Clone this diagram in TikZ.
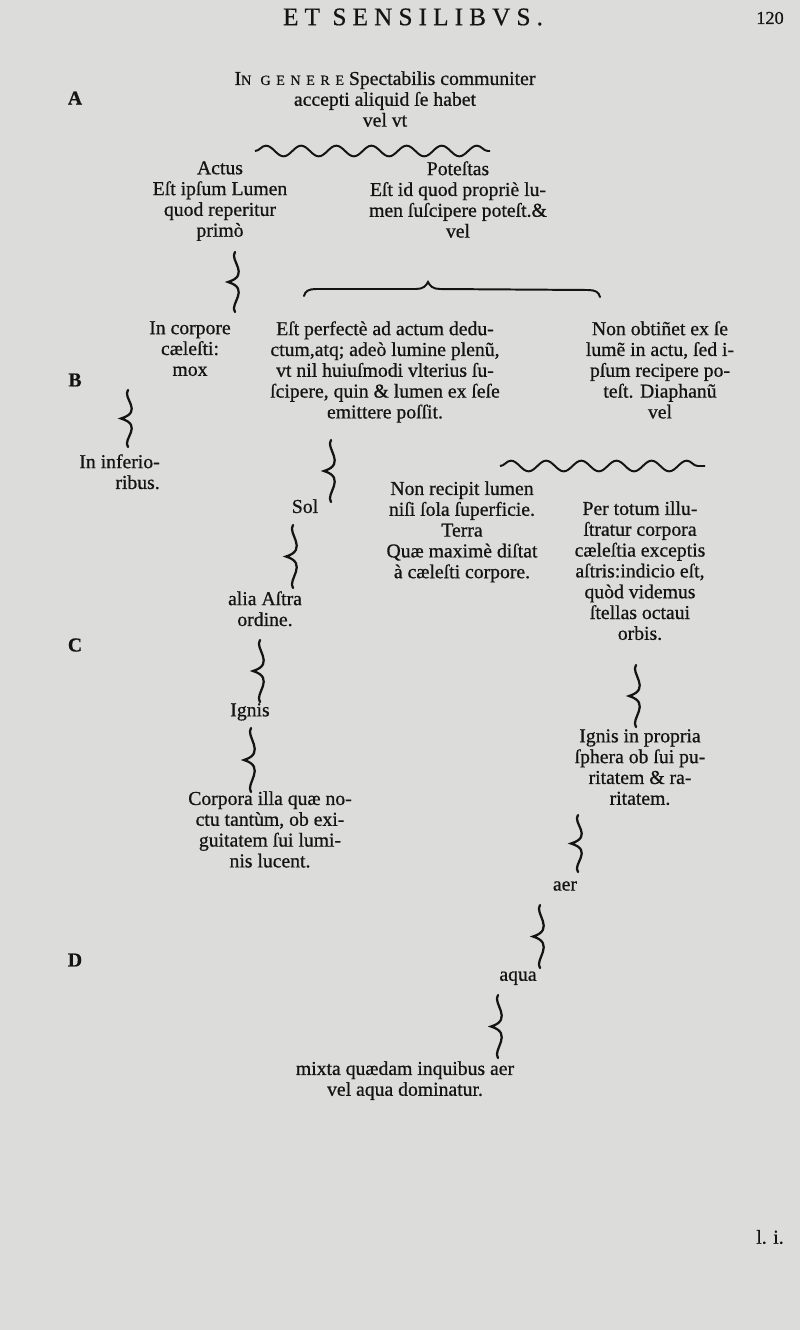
\documentclass[tikz,border=0pt]{standalone}
\usepackage{fontspec}
\setmainfont{Liberation Serif}[FakeBold=0.7]
\newfontfamily\inkfont[FakeBold=0.7]{Liberation Serif}
\newfontfamily\spaced[LetterSpace=24,FakeBold=0.5]{Liberation Serif}
\newfontfamily\smallspaced[LetterSpace=40,FakeBold=0.5]{Liberation Serif}
\usepackage{xcolor}
\usetikzlibrary{calc,decorations.pathmorphing}
\definecolor{paper}{RGB}{220,220,218}
\definecolor{ink}{RGB}{20,20,20}

\begin{document}
\begin{tikzpicture}[x=0.025cm, y=-0.025cm,
  txt/.style={inner sep=0pt, anchor=north, align=center, text=ink, font=\fontsize{14}{14.8}\inkfont},
  sidelet/.style={inner sep=0pt, text=ink, font=\fontsize{14}{14}\selectfont\bfseries},
  wave/.style={draw=ink, line width=1.4pt, decorate, decoration={snake, segment length=25pt, amplitude=3.8pt}},
  hbrace/.style={draw=ink, line width=1.4pt, line cap=round},
  vbrace/.style={draw=ink, line width=1.6pt, line cap=round,
    to path={(\tikztostart) .. controls ($(\tikztostart)+(-6,8)$) and ($(\tikztostart)!.5!(\tikztotarget)+(16,-7)$) .. ($(\tikztostart)!.5!(\tikztotarget)+(-7,0)$)
      .. controls ($(\tikztostart)!.5!(\tikztotarget)+(16,7)$) and ($(\tikztotarget)+(-6,-8)$) .. (\tikztotarget)}}]
\fill[paper] (0,0) rectangle (800,1330);
\useasboundingbox (0,0) rectangle (800,1330);

\node[inner sep=0pt, text=ink, font=\fontsize{18}{18}\spaced] (head) at (413,17) {ET SENSILIBVS.};
\node[inner sep=0pt, text=ink, font=\fontsize{13}{13}\inkfont] (folio) at (770,18) {120};
\node[sidelet] (mA) at (75,98) {A};
\node[sidelet] (mB) at (75,380) {B};
\node[sidelet] (mC) at (75,645) {C};
\node[sidelet] (mD) at (75,960) {D};

\node[txt] (genus) at (385,71) {I{\fontsize{10}{10}\smallspaced N GENERE} Spectabilis communiter\\accepti aliquid ſe habet\\vel vt};
\node[txt] (actus) at (220,161) {Actus\\Eſt ipſum Lumen\\quod reperitur\\primò};
\node[txt] (potestas) at (458,161) {Poteſtas\\Eſt id quod propriè lu-\\men ſuſcipere poteſt.\&\\vel};
\node[txt] (corpore) at (190,321) {In corpore\\cæleſti:\\mox};
\node[txt] (perfecte) at (385,321) {Eſt perfectè ad actum dedu-\\ctum,atq; adeò lumine plenũ,\\vt nil huiuſmodi vlterius ſu-\\ſcipere, quin \& lumen ex ſeſe\\emittere poſſit.};
\node[txt] (obtinet) at (660,321) {Non obtiñet ex ſe\\lumẽ in actu, ſed i-\\pſum recipere po-\\teſt. Diaphanũ\\vel};
\node[txt, anchor=north east, align=right] (inferior) at (160,454) {In inferio-\\ribus.};
\node[txt] (sol) at (305,499) {Sol};
\node[txt] (terra) at (462,481) {Non recipit lumen\\niſi ſola ſuperficie.\\Terra\\Quæ maximè diſtat\\à cæleſti corpore.};
\node[txt] (pertotum) at (640,501) {Per totum illu-\\ſtratur corpora\\cæleſtia exceptis\\aſtris:indicio eſt,\\quòd videmus\\ſtellas octaui\\orbis.};
\node[txt] (astra) at (265,591) {alia Aſtra\\ordine.};
\node[txt] (ignis) at (250,703) {Ignis};
\node[txt] (corpora) at (270,791) {Corpora illa quæ no-\\ctu tantùm, ob exi-\\guitatem ſui lumi-\\nis lucent.};
\node[txt] (ignisprop) at (640,729) {Ignis in propria\\ſphera ob ſui pu-\\ritatem \& ra-\\ritatem.};
\node[txt] (aer) at (565,881) {aer};
\node[txt] (aqua) at (518,971) {aqua};
\node[txt] (mixta) at (405,1061) {mixta quædam inquibus aer\\vel aqua dominatur.};
\node[inner sep=0pt, text=ink, font=\fontsize{14}{14}\inkfont] (li) at (770,1237) {l. i.};

\coordinate (w1l) at (255,151);
\coordinate (w1r) at (490,151);
\coordinate (w2l) at (500,466);
\coordinate (w2r) at (705,466);
\coordinate (hl) at (304,296);
\coordinate (ht) at (428,282);
\coordinate (hr) at (600,297);
\draw[wave] (w1l) -- (w1r);
\draw[wave] (w2l) -- (w2r);
\draw[hbrace] (hl) .. controls ($(hl)+(1,-5)$) and ($(hl)+(5,-7)$) .. ($(hl)+(12,-7)$) -- ($(ht)+(-12,7)$)
  .. controls ($(ht)+(-5,7)$) and ($(ht)+(-2,4)$) .. (ht)
  .. controls ($(ht)+(2,4)$) and ($(ht)+(5,7)$) .. ($(ht)+(12,7)$) -- ($(hr)+(-12,-7)$)
  .. controls ($(hr)+(-5,-7)$) and ($(hr)+(-1,-5)$) .. (hr);

\coordinate (s1) at (235,252);  \coordinate (e1) at (235,312);
\coordinate (s2) at (128,390);  \coordinate (e2) at (128,447);
\coordinate (s3) at (331,440);  \coordinate (e3) at (331,502);
\coordinate (s4) at (293,525);  \coordinate (e4) at (293,588);
\coordinate (s5) at (260,640);  \coordinate (e5) at (260,702);
\coordinate (s6) at (251,728);  \coordinate (e6) at (251,792);
\coordinate (s7) at (636,665);  \coordinate (e7) at (636,727);
\coordinate (s8) at (578,815);  \coordinate (e8) at (578,872);
\coordinate (s9) at (540,905);  \coordinate (e9) at (540,968);
\coordinate (s10) at (498,995); \coordinate (e10) at (498,1058);
\path (s1) edge[vbrace] (e1)
  (s2) edge[vbrace] (e2)
  (s3) edge[vbrace] (e3)
  (s4) edge[vbrace] (e4)
  (s5) edge[vbrace] (e5)
  (s6) edge[vbrace] (e6)
  (s7) edge[vbrace] (e7)
  (s8) edge[vbrace] (e8)
  (s9) edge[vbrace] (e9)
  (s10) edge[vbrace] (e10);
\end{tikzpicture}
\end{document}
